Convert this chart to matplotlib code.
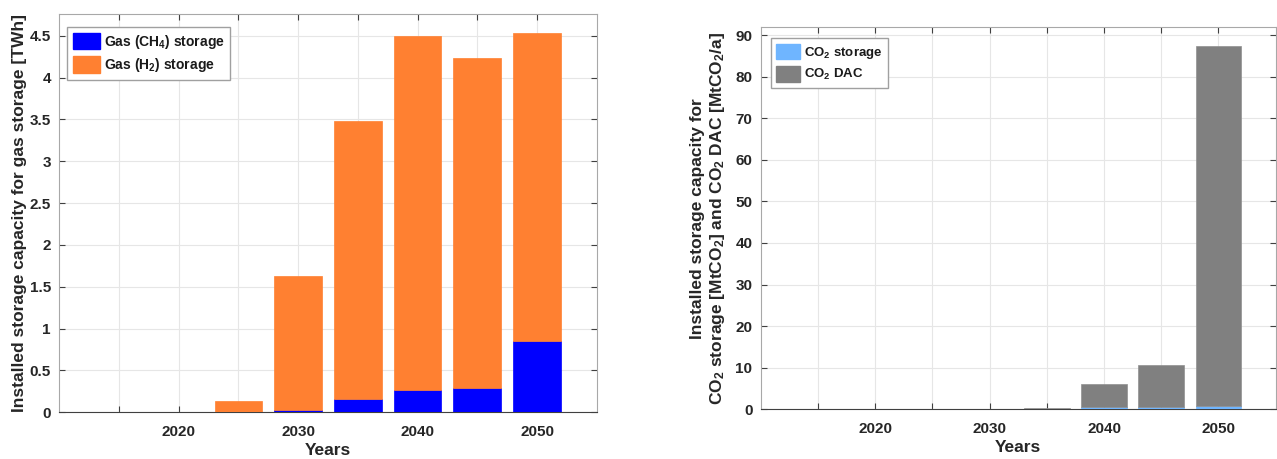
import numpy as np
import matplotlib
matplotlib.use("Agg")
import matplotlib.pyplot as plt
from matplotlib.patches import Patch

plt.rcParams['font.family'] = ['Liberation Sans', 'DejaVu Sans']
plt.rcParams['font.weight'] = 'bold'
plt.rcParams['mathtext.fontset'] = 'custom'
plt.rcParams['mathtext.rm'] = 'Liberation Sans:bold'
plt.rcParams['mathtext.bf'] = 'Liberation Sans:bold'
plt.rcParams['mathtext.default'] = 'bf'

years = [2015, 2020, 2025, 2030, 2035, 2040, 2045, 2050]

# left panel [TWh]
gas_ch4 = [0, 0, 0, 0.025, 0.16, 0.27, 0.29, 0.85]
gas_total = [0, 0, 0.135, 1.63, 3.48, 4.50, 4.23, 4.53]
gas_h2 = [t - c for t, c in zip(gas_total, gas_ch4)]

# right panel [MtCO2]
co2_storage = [0, 0, 0, 0, 0.05, 0.5, 0.5, 0.9]
co2_total = [0, 0, 0, 0, 0.4, 6.05, 10.7, 87.4]
co2_dac = [t - s for t, s in zip(co2_total, co2_storage)]

tick_labels = ['', '2020', '', '2030', '', '2040', '', '2050']

txt = '#262626'
fig = plt.figure(figsize=(12.77, 4.59), dpi=100)
ax1 = fig.add_axes([0.0464, 0.1017, 0.4209, 0.8678])
ax2 = fig.add_axes([0.5957, 0.1083, 0.4033, 0.8322])


def style(ax, ymax, yticks):
    ax.set_xlim(2010, 2055)
    ax.set_ylim(0, ymax)
    ax.set_xticks(years)
    ax.set_xticklabels(tick_labels)
    ax.set_yticks(yticks)
    ax.set_yticklabels([f'{v:g}' for v in yticks])
    ax.grid(True, color='#e6e6e6', linewidth=0.8)
    ax.set_axisbelow(True)
    ax.tick_params(direction='in', length=4, colors='#404040', labelcolor=txt,
                   labelsize=11, top=True, right=True)
    ax.tick_params(axis='x', pad=9)
    ax.tick_params(axis='y', pad=6)
    for s in ['left', 'top', 'right']:
        ax.spines[s].set_color('#a8a8a8')
    ax.spines['bottom'].set_color('#404040')
    ax.set_xlabel('Years', fontsize=12.5, color=txt, fontweight='bold', labelpad=3)


def legend(ax, labels, colors, dx, dy, size, hl, hh):
    w = ax.get_position().width * 1277
    h = ax.get_position().height * 459
    hs = [Patch(facecolor=c, edgecolor=c) for c in colors]
    leg = ax.legend(hs, labels, loc='upper left', fontsize=size, fancybox=False,
                    edgecolor='#a0a0a0', framealpha=1, handlelength=hl,
                    handleheight=hh, handletextpad=0.3, borderpad=0.4,
                    labelspacing=0.4, borderaxespad=0,
                    bbox_to_anchor=(dx / w, 1 - dy / h))
    for t in leg.get_texts():
        t.set_color('#1a1a1a')


ax1.bar(years, gas_ch4, width=4, color='#0000ff', edgecolor='#0000ff', linewidth=0.5, zorder=3)
ax1.bar(years, gas_h2, width=4, bottom=gas_ch4, color='#ff8031', edgecolor='#ff8031', linewidth=0.5, zorder=3)
style(ax1, 4.76, np.arange(0, 4.51, 0.5))
ax1.set_ylabel('Installed storage capacity for gas storage [TWh]', fontsize=12.5, color=txt,
               fontweight='bold', labelpad=2)
legend(ax1, ['Gas (CH$_4$) storage', 'Gas (H$_2$) storage'], ['#0000ff', '#ff8031'],
       8, 13, 10, 1.95, 1.45)

ax2.bar(years, co2_storage, width=4, color='#6fb5ff', edgecolor='#6fb5ff', linewidth=0.5, zorder=3)
ax2.bar(years, co2_dac, width=4, bottom=co2_storage, color='#808080', edgecolor='#909090', linewidth=0.5, zorder=3)
style(ax2, 91.85, np.arange(0, 91, 10))
ax2.set_ylabel('Installed storage capacity for\nCO$_2$ storage [MtCO$_2$] and CO$_2$ DAC [MtCO$_2$/a]',
               fontsize=12.5, color=txt, fontweight='bold', labelpad=6)
legend(ax2, ['CO$_2$ storage', 'CO$_2$ DAC'], ['#6fb5ff', '#808080'], 10, 11, 9.5, 1.85, 1.45)

fig.savefig('out.png', dpi=100)
